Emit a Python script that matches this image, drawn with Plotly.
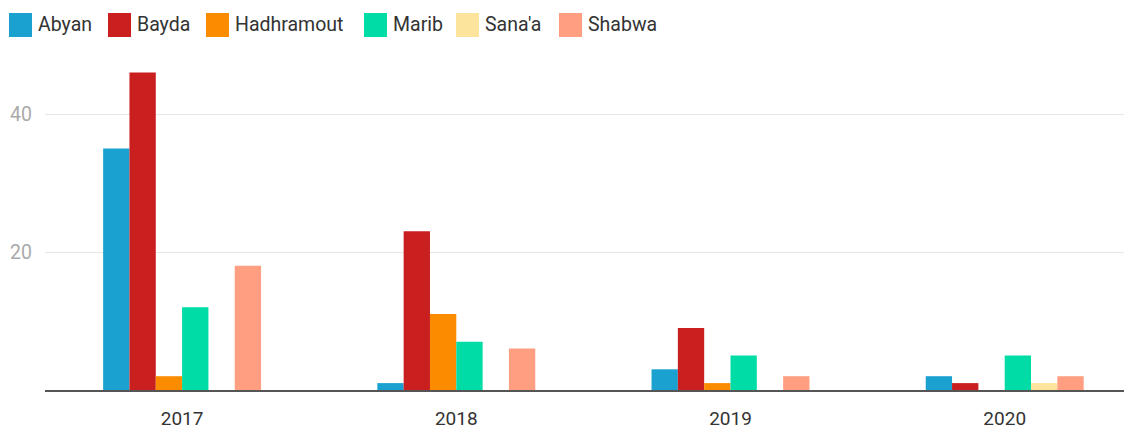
import plotly.graph_objects as go

years = ["2017", "2018", "2019", "2020"]
abyan = [35, 1, 3, 2]
bayda = [46, 23, 9, 1]
hadhramout = [2, 11, 1, 0]
marib = [12, 7, 5, 5]
sanaa = [0, 0, 0, 1]
shabwa = [18, 6, 2, 2]

series_names = ["Abyan", "Bayda", "Hadhramout", "Marib", "Sana'a", "Shabwa"]
series_values = [abyan, bayda, hadhramout, marib, sanaa, shabwa]
series_colors = ["#1aa1d0", "#c91f1f", "#fb8c00", "#00dca6", "#fde49c", "#ff9e80"]

# page body has an 8px margin; figure is sized to fill the rest of the window
OFF = 8
W, H = 1132 - OFF, 428 - OFF
ML, MR, MT, MB = 45 - OFF, 0, 45 - OFF, 38
PW, PH = W - ML - MR, H - MT - MB

# category band in pixels (the original chart's plot runs past the right edge)
BAND = 274.2
x_range = [-0.5, -0.5 + PW / BAND]

# legend swatch left edges in window pixels
legend_x = [9, 108, 206, 364, 456, 559]


def px_x(x):  # window pixel -> paper x
    return (x - OFF - ML) / PW


def px_y(y):  # window pixel -> paper y
    return (H - MB - (y - OFF)) / PH


fig = go.Figure()
for name, vals, color in zip(series_names, series_values, series_colors):
    fig.add_trace(go.Bar(x=years, y=vals, name=name, showlegend=False,
                         marker=dict(color=color, line=dict(width=0))))

shapes = []
annotations = []
for name, color, lx in zip(series_names, series_colors, legend_x):
    shapes.append(dict(type="rect", xref="paper", yref="paper",
                       x0=px_x(lx), x1=px_x(lx + 23),
                       y0=px_y(37), y1=px_y(13),
                       fillcolor=color, line=dict(width=0), layer="above"))
    annotations.append(dict(text=name, xref="paper", yref="paper",
                            x=px_x(lx + 27), y=px_y(25),
                            xanchor="left", yanchor="middle", showarrow=False,
                            font=dict(family="Roboto", size=19.5, color="#333333")))

fig.update_layout(
    width=W, height=H,
    margin=dict(l=ML, r=MR, t=MT, b=MB, autoexpand=False),
    paper_bgcolor="white", plot_bgcolor="white",
    font=dict(family="Roboto", size=19, color="#333333"),
    barmode="group", bargap=0.424, bargroupgap=0,
    showlegend=False,
    shapes=shapes, annotations=annotations,
    xaxis=dict(range=x_range, showgrid=False, showline=True, linecolor="#555555", linewidth=2,
               ticks="", automargin=False, ticklabelstandoff=10,
               tickfont=dict(size=19, color="#333333")),
    yaxis=dict(range=[0, 50], tickvals=[20, 40], showgrid=True, gridcolor="#e6e6e6",
               gridwidth=1, zeroline=False, showline=False, automargin=False,
               tickfont=dict(size=19.5, color="#aaaaaa"), ticklabelstandoff=12),
)
fig.write_html("out.html")
